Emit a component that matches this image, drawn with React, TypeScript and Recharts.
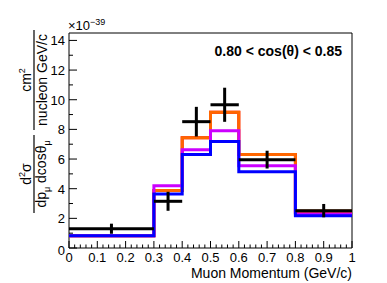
import React from 'react';
import { ComposedChart, Line, Scatter, ErrorBar, XAxis, YAxis, ReferenceArea } from 'recharts';

// bin edges (GeV/c) and per-bin cross sections (x1e-39)
const binEdges = [0, 0.3, 0.4, 0.5, 0.6, 0.8, 1.0];
const orangeVals = [0.83, 3.88, 7.44, 9.15, 6.3, 2.49];
const redVals = [0.83, 3.88, 7.44, 9.15, 6.3, 2.39];
const magentaVals = [0.83, 4.2, 6.62, 7.9, 5.55, 2.29];
const blueVals = [0.83, 3.65, 6.3, 7.18, 5.15, 2.18];

// measured points
const dataX = [0.15, 0.35, 0.45, 0.55, 0.7, 0.9];
const dataXErr = [0.15, 0.05, 0.05, 0.05, 0.1, 0.1];
const dataY = [1.3, 3.15, 8.52, 9.66, 5.96, 2.52];
const dataYErr = [0.34, 0.64, 1.0, 1.15, 0.6, 0.45];

const xMajor = [0, 0.1, 0.2, 0.3, 0.4, 0.5, 0.6, 0.7, 0.8, 0.9, 1];
const yMajor = [0, 2, 4, 6, 8, 10, 12, 14];

const FONT = '"Liberation Sans", Arial, sans-serif';
const Y_TOP = 14.5;

const stepData = (vals: number[]) =>
  binEdges.map((x, i) => ({ x, y: vals[Math.min(i, vals.length - 1)] }));

const points = dataX.map((x, i) => ({ x, y: dataY[i], ex: dataXErr[i], ey: dataYErr[i] }));

const xTicks: number[] = [];
for (let i = 0; i <= 50; i++) xTicks.push(Math.round(i * 2) / 100);
const yTicks: number[] = [];
for (let i = 0; i <= 14; i++) yTicks.push(i);

const isMajorX = (v: number) => xMajor.some((m) => Math.abs(m - v) < 1e-6);

const XTick = (props: any) => {
  const { x, y, payload } = props;
  const major = isMajorX(payload.value);
  const label = payload.value === 0 ? '0' : payload.value === 1 ? '1' : payload.value.toFixed(1);
  return (
    <g>
      <line x1={x} x2={x} y1={y} y2={y - (major ? 7 : 3.5)} stroke="#000" strokeWidth={1} />
      {major && (
        <text x={x} y={y + 14} textAnchor="middle" fontSize={13} fontFamily={FONT} fill="#000">
          {label}
        </text>
      )}
    </g>
  );
};

const YTick = (props: any) => {
  const { x, y, payload } = props;
  const major = yMajor.includes(payload.value);
  return (
    <g>
      <line x1={x} x2={x + (major ? 8 : 4)} y1={y} y2={y} stroke="#000" strokeWidth={1} />
      {major && (
        <text x={x - 4} y={y + (payload.value === 0 ? 7 : 5)} textAnchor="end" fontSize={13} fontFamily={FONT} fill="#000">
          {payload.value}
        </text>
      )}
    </g>
  );
};

export default function App() {
  return (
    <div style={{ position: 'absolute', left: 0, top: 0, width: 387, height: 283, background: '#fff' }}>
      <ComposedChart width={387} height={283} data={points} margin={{ top: 33, right: 35, bottom: 0, left: 0 }}>
        <XAxis
          dataKey="x"
          type="number"
          domain={[0, 1]}
          ticks={xTicks}
          interval={0}
          tickSize={0}
          tickMargin={0}
          tickLine={false}
          axisLine={false}
          height={35}
          tick={<XTick />}
          allowDataOverflow
        />
        <YAxis
          type="number"
          domain={[0, Y_TOP]}
          ticks={yTicks}
          interval={0}
          tickSize={0}
          tickMargin={0}
          tickLine={false}
          axisLine={false}
          width={69}
          tick={<YTick />}
          allowDataOverflow
        />
        <ReferenceArea x1={0} x2={1} y1={0} y2={Y_TOP} fill="none" stroke="#000" strokeWidth={1} />
        <Line data={stepData(redVals)} dataKey="y" type="stepAfter" stroke="#ff0000" strokeWidth={3} dot={false} isAnimationActive={false} />
        <Line data={stepData(orangeVals)} dataKey="y" type="stepAfter" stroke="#ff6600" strokeWidth={3} dot={false} isAnimationActive={false} />
        <Line data={stepData(magentaVals)} dataKey="y" type="stepAfter" stroke="#cc00ff" strokeWidth={3} dot={false} isAnimationActive={false} />
        <Line data={stepData(blueVals)} dataKey="y" type="stepAfter" stroke="#0000ff" strokeWidth={3} dot={false} isAnimationActive={false} />
        <Scatter data={points} dataKey="y" fill="#000" shape={() => <g />} isAnimationActive={false}>
          <ErrorBar dataKey="ex" direction="x" width={0.001} stroke="#000" strokeWidth={3} />
          <ErrorBar dataKey="ey" direction="y" width={0.001} stroke="#000" strokeWidth={3} />
        </Scatter>
      </ComposedChart>
      <svg width={387} height={283} style={{ position: 'absolute', left: 0, top: 0, pointerEvents: 'none' }}>
        <g fontFamily={FONT} fill="#000">
          <text x={68} y={30} fontSize={13}>
            ×10<tspan fontSize={9} dy={-5}>−39</tspan>
          </text>
          <text x={342} y={56} fontSize={14} fontWeight="bold" textAnchor="end">
            0.80 &lt; cos(θ) &lt; 0.85
          </text>
          <text x={352} y={278} fontSize={14} textAnchor="end">
            Muon Momentum (GeV/c)
          </text>
          {/* y title: two stacked fractions, rotated */}
          <g transform="translate(34, 80) rotate(-90)">
            <line x1={-50} x2={50} y1={0} y2={0} stroke="#000" strokeWidth={1.2} />
            <text x={0} y={-3} fontSize={14} textAnchor="middle">
              cm<tspan fontSize={9} dy={-6}>2</tspan>
            </text>
            <text x={0} y={13} fontSize={14} textAnchor="middle">
              nucleon GeV/c
            </text>
          </g>
          <g transform="translate(34, 174) rotate(-90)">
            <line x1={-39} x2={39} y1={0} y2={0} stroke="#000" strokeWidth={1.2} />
            <text x={0} y={-3} fontSize={14} textAnchor="middle">
              d<tspan fontSize={9} dy={-6}>2</tspan>
              <tspan dy={6}>σ</tspan>
            </text>
            <text x={0} y={12} fontSize={14} textAnchor="middle">
              dp<tspan fontSize={9} dy={4}>μ</tspan>
              <tspan dy={-4}> dcosθ</tspan>
              <tspan fontSize={9} dy={4}>μ</tspan>
            </text>
          </g>
        </g>
      </svg>
    </div>
  );
}
